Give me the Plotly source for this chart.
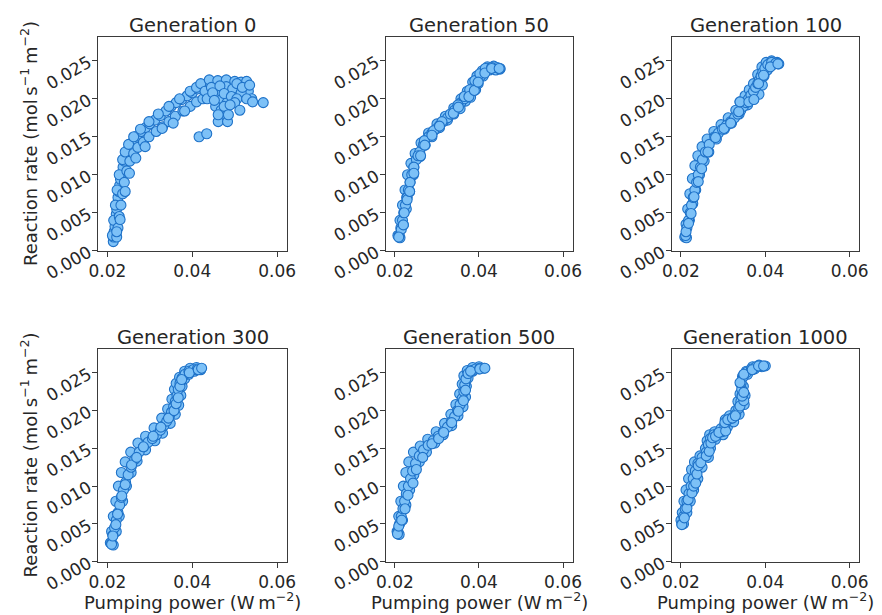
import plotly.graph_objects as go

# ---------------- data ----------------
titles = ["Generation 0", "Generation 50", "Generation 100",
          "Generation 300", "Generation 500", "Generation 1000"]

gen0_x = [0.0214, 0.0215, 0.0216, 0.0218, 0.0219, 0.0221, 0.0222, 0.0224, 0.0225, 0.0227,
          0.0229, 0.0231, 0.0234, 0.0237, 0.0240, 0.0244, 0.0249, 0.0255, 0.0262, 0.0270,
          0.0280, 0.0290, 0.0300, 0.0312, 0.0325, 0.0338, 0.0350, 0.0362, 0.0375, 0.0388,
          0.0400, 0.0412, 0.0425, 0.0438, 0.0450, 0.0462, 0.0475, 0.0488, 0.0500, 0.0512,
          0.0525,
          0.0212, 0.0215, 0.0219, 0.0223, 0.0228, 0.0236, 0.0242, 0.0250, 0.0262, 0.0278,
          0.0298, 0.0320, 0.0345, 0.0370, 0.0395, 0.0410, 0.0420, 0.0440, 0.0460, 0.0480,
          0.0500, 0.0515, 0.0528,
          0.0222, 0.0225, 0.0228, 0.0232, 0.0236, 0.0240, 0.0246, 0.0253, 0.0262, 0.0272,
          0.0285, 0.0298, 0.0315, 0.0330, 0.0345, 0.0360, 0.0378, 0.0395, 0.0410, 0.0425,
          0.0440, 0.0455, 0.0470, 0.0485, 0.0498, 0.0510, 0.0520, 0.0532, 0.0540,
          0.0430, 0.0445, 0.0460, 0.0470, 0.0480, 0.0495, 0.0505, 0.0515, 0.0455, 0.0468,
          0.0482, 0.0470, 0.0435, 0.0448, 0.0452, 0.0465, 0.0475, 0.0492, 0.0505, 0.0518,
          0.0528, 0.0535, 0.0500, 0.0475,
          0.0416, 0.0434, 0.0567, 0.0542, 0.0512, 0.0461, 0.0483, 0.0485, 0.0461, 0.0489,
          0.0355, 0.0382, 0.0329, 0.0289, 0.0267, 0.0252, 0.0242, 0.0230, 0.0222]
gen0_y = [0.0012, 0.0018, 0.0025, 0.0032, 0.0040, 0.0048, 0.0055, 0.0062, 0.0070, 0.0078,
          0.0086, 0.0094, 0.0102, 0.0110, 0.0118, 0.0126, 0.0133, 0.0139, 0.0145, 0.0151,
          0.0157, 0.0162, 0.0167, 0.0172, 0.0178, 0.0184, 0.0190, 0.0195, 0.0199, 0.0204,
          0.0208, 0.0213, 0.0218, 0.0222, 0.0221, 0.0223, 0.0222, 0.0221, 0.0219, 0.0216,
          0.0222,
          0.0020, 0.0040, 0.0060, 0.0080, 0.0100, 0.0120, 0.0130, 0.0140, 0.0150, 0.0160,
          0.0170, 0.0180, 0.0190, 0.0200, 0.0210, 0.0215, 0.0220, 0.0225, 0.0224, 0.0225,
          0.0223, 0.0222, 0.0223,
          0.0018, 0.0030, 0.0045, 0.0060, 0.0075, 0.0090, 0.0105, 0.0118, 0.0128, 0.0136,
          0.0143, 0.0150, 0.0157, 0.0163, 0.0170, 0.0177, 0.0184, 0.0190, 0.0196, 0.0200,
          0.0205, 0.0210, 0.0213, 0.0210, 0.0207, 0.0212, 0.0205, 0.0210, 0.0200,
          0.0210, 0.0215, 0.0205, 0.0200, 0.0216, 0.0213, 0.0220, 0.0208, 0.0190, 0.0185,
          0.0195, 0.0178, 0.0200, 0.0208, 0.0198, 0.0217, 0.0207, 0.0203, 0.0200, 0.0215,
          0.0200, 0.0218, 0.0195, 0.0190,
          0.0150, 0.0154, 0.0195, 0.0196, 0.0185, 0.0170, 0.0170, 0.0179, 0.0179, 0.0192,
          0.0168, 0.0184, 0.0161, 0.0137, 0.0122, 0.0102, 0.0078, 0.0041, 0.0025]

gen50_x = [0.0207, 0.0212, 0.0218, 0.0224, 0.0230, 0.0238, 0.0248, 0.0262, 0.0280, 0.0300,
           0.0320, 0.0340, 0.0357, 0.0372, 0.0385, 0.0395, 0.0408, 0.0420, 0.0435, 0.0445,
           0.0212, 0.0220, 0.0227, 0.0235, 0.0244, 0.0260, 0.0272, 0.0288, 0.0306, 0.0325,
           0.0340, 0.0355, 0.0368, 0.0380, 0.0392, 0.0398, 0.0410, 0.0425, 0.0440, 0.0450,
           0.0210, 0.0214, 0.0218, 0.0221, 0.0225, 0.0228, 0.0232, 0.0236, 0.0240, 0.0245,
           0.0251, 0.0259, 0.0268, 0.0280, 0.0288, 0.0297, 0.0306, 0.0315, 0.0325, 0.0334,
           0.0342, 0.0350, 0.0357, 0.0365, 0.0372, 0.0380, 0.0387, 0.0393, 0.0398, 0.0404,
           0.0412, 0.0422, 0.0432, 0.0442, 0.0450,
           0.0215, 0.0222, 0.0229, 0.0236, 0.0245, 0.0255, 0.0270, 0.0292, 0.0312, 0.0332,
           0.0350, 0.0365, 0.0378, 0.0390, 0.0402, 0.0415, 0.0430,
           0.0209, 0.0220, 0.0229, 0.0235, 0.0245, 0.0261, 0.0271, 0.0288, 0.0306, 0.0339,
           0.0351, 0.0376, 0.0389, 0.0398, 0.0414, 0.0430, 0.0448]
gen50_y = [0.0020, 0.0040, 0.0060, 0.0080, 0.0100, 0.0115, 0.0128, 0.0142, 0.0155, 0.0167,
           0.0177, 0.0188, 0.0200, 0.0210, 0.0222, 0.0230, 0.0237, 0.0242, 0.0243, 0.0241,
           0.0017, 0.0034, 0.0055, 0.0078, 0.0100, 0.0124, 0.0139, 0.0150, 0.0162, 0.0172,
           0.0180, 0.0187, 0.0197, 0.0202, 0.0212, 0.0220, 0.0230, 0.0238, 0.0238, 0.0239,
           0.0020, 0.0030, 0.0040, 0.0050, 0.0060, 0.0070, 0.0080, 0.0090, 0.0100, 0.0110,
           0.0120, 0.0130, 0.0140, 0.0150, 0.0155, 0.0160, 0.0165, 0.0170, 0.0175, 0.0180,
           0.0185, 0.0190, 0.0195, 0.0200, 0.0205, 0.0210, 0.0215, 0.0220, 0.0225, 0.0230,
           0.0235, 0.0240, 0.0241, 0.0241, 0.0240,
           0.0028, 0.0050, 0.0070, 0.0090, 0.0110, 0.0125, 0.0145, 0.0158, 0.0170, 0.0180,
           0.0192, 0.0203, 0.0212, 0.0224, 0.0233, 0.0240, 0.0241,
           0.0018, 0.0034, 0.0067, 0.0078, 0.0102, 0.0125, 0.0139, 0.0152, 0.0164, 0.0181,
           0.0189, 0.0203, 0.0211, 0.0222, 0.0234, 0.0240, 0.0240]

gen100_x = [0.0209, 0.0212, 0.0216, 0.0221, 0.0227, 0.0233, 0.0240, 0.0250, 0.0262, 0.0278,
            0.0295, 0.0312, 0.0330, 0.0340, 0.0352, 0.0362, 0.0372, 0.0382, 0.0392, 0.0402,
            0.0415, 0.0428,
            0.0213, 0.0220, 0.0228, 0.0235, 0.0244, 0.0255, 0.0266, 0.0284, 0.0303, 0.0320,
            0.0338, 0.0358, 0.0372, 0.0385, 0.0393, 0.0397, 0.0405, 0.0418, 0.0432,
            0.0211, 0.0214, 0.0218, 0.0222, 0.0225, 0.0229, 0.0233, 0.0237, 0.0241, 0.0246,
            0.0251, 0.0258, 0.0267, 0.0280, 0.0289, 0.0298, 0.0308, 0.0318, 0.0327, 0.0335,
            0.0342, 0.0348, 0.0354, 0.0360, 0.0366, 0.0372, 0.0377, 0.0382, 0.0386, 0.0390,
            0.0394, 0.0399, 0.0406, 0.0415, 0.0425,
            0.0212, 0.0218, 0.0224, 0.0231, 0.0241, 0.0249, 0.0264, 0.0282, 0.0302, 0.0318,
            0.0337, 0.0340, 0.0361, 0.0373, 0.0384, 0.0396, 0.0412, 0.0430]
gen100_y = [0.0018, 0.0035, 0.0055, 0.0075, 0.0095, 0.0112, 0.0125, 0.0137, 0.0147, 0.0157,
            0.0166, 0.0175, 0.0185, 0.0196, 0.0204, 0.0212, 0.0220, 0.0232, 0.0242, 0.0248,
            0.0250, 0.0248,
            0.0017, 0.0040, 0.0062, 0.0080, 0.0100, 0.0118, 0.0130, 0.0147, 0.0160, 0.0168,
            0.0180, 0.0192, 0.0200, 0.0206, 0.0218, 0.0230, 0.0238, 0.0245, 0.0246,
            0.0020, 0.0030, 0.0040, 0.0050, 0.0060, 0.0070, 0.0080, 0.0090, 0.0100, 0.0110,
            0.0120, 0.0130, 0.0140, 0.0150, 0.0155, 0.0160, 0.0165, 0.0170, 0.0175, 0.0180,
            0.0185, 0.0190, 0.0195, 0.0200, 0.0205, 0.0210, 0.0215, 0.0220, 0.0225, 0.0230,
            0.0235, 0.0240, 0.0245, 0.0248, 0.0247,
            0.0025, 0.0036, 0.0049, 0.0071, 0.0091, 0.0108, 0.0130, 0.0149, 0.0161, 0.0168,
            0.0183, 0.0196, 0.0196, 0.0199, 0.0220, 0.0231, 0.0242, 0.0246]

gen300_x = [0.0207, 0.0210, 0.0214, 0.0220, 0.0226, 0.0233, 0.0242, 0.0255, 0.0272, 0.0290,
            0.0310, 0.0328, 0.0342, 0.0352, 0.0358, 0.0362, 0.0370, 0.0382, 0.0395, 0.0410,
            0.0214, 0.0221, 0.0228, 0.0236, 0.0245, 0.0256, 0.0270, 0.0290, 0.0312, 0.0330,
            0.0348, 0.0360, 0.0368, 0.0373, 0.0376, 0.0382, 0.0392, 0.0405, 0.0420,
            0.0210, 0.0213, 0.0217, 0.0221, 0.0225, 0.0229, 0.0233, 0.0238, 0.0243, 0.0249,
            0.0256, 0.0264, 0.0275, 0.0285, 0.0296, 0.0306, 0.0316, 0.0325, 0.0333, 0.0340,
            0.0346, 0.0351, 0.0356, 0.0360, 0.0364, 0.0367, 0.0371, 0.0376, 0.0383, 0.0392,
            0.0402, 0.0412,
            0.0210, 0.0213, 0.0220, 0.0224, 0.0234, 0.0242, 0.0257, 0.0269, 0.0285, 0.0308,
            0.0326, 0.0344, 0.0357, 0.0362, 0.0367, 0.0371, 0.0375, 0.0393, 0.0414, 0.0422]
gen300_y = [0.0025, 0.0040, 0.0060, 0.0080, 0.0100, 0.0118, 0.0132, 0.0145, 0.0157, 0.0166,
            0.0177, 0.0190, 0.0202, 0.0215, 0.0228, 0.0236, 0.0244, 0.0252, 0.0256, 0.0257,
            0.0022, 0.0040, 0.0060, 0.0080, 0.0100, 0.0118, 0.0133, 0.0148, 0.0160, 0.0170,
            0.0183, 0.0195, 0.0207, 0.0220, 0.0232, 0.0242, 0.0248, 0.0252, 0.0254,
            0.0025, 0.0035, 0.0045, 0.0055, 0.0065, 0.0075, 0.0085, 0.0095, 0.0105, 0.0115,
            0.0125, 0.0135, 0.0145, 0.0152, 0.0158, 0.0163, 0.0168, 0.0174, 0.0180, 0.0186,
            0.0192, 0.0198, 0.0205, 0.0212, 0.0220, 0.0228, 0.0236, 0.0243, 0.0248, 0.0252,
            0.0254, 0.0255,
            0.0023, 0.0034, 0.0049, 0.0063, 0.0087, 0.0102, 0.0128, 0.0138, 0.0152, 0.0166,
            0.0178, 0.0190, 0.0200, 0.0209, 0.0217, 0.0232, 0.0241, 0.0250, 0.0254, 0.0256]

gen500_x = [0.0205, 0.0209, 0.0214, 0.0220, 0.0226, 0.0233, 0.0244, 0.0260, 0.0278, 0.0298,
            0.0318, 0.0333, 0.0345, 0.0354, 0.0360, 0.0364, 0.0372, 0.0385, 0.0400,
            0.0210, 0.0218, 0.0226, 0.0235, 0.0245, 0.0258, 0.0275, 0.0295, 0.0315, 0.0335,
            0.0350, 0.0362, 0.0368, 0.0370, 0.0374, 0.0385, 0.0400, 0.0412,
            0.0207, 0.0211, 0.0215, 0.0219, 0.0223, 0.0227, 0.0232, 0.0237, 0.0242, 0.0249,
            0.0258, 0.0268, 0.0279, 0.0291, 0.0303, 0.0315, 0.0325, 0.0334, 0.0342, 0.0349,
            0.0355, 0.0360, 0.0364, 0.0366, 0.0369, 0.0374, 0.0382, 0.0392, 0.0402,
            0.0206, 0.0209, 0.0216, 0.0224, 0.0231, 0.0243, 0.0251, 0.0266, 0.0288, 0.0304,
            0.0316, 0.0335, 0.0351, 0.0363, 0.0368, 0.0380, 0.0402, 0.0414]
gen500_y = [0.0040, 0.0060, 0.0080, 0.0100, 0.0118, 0.0132, 0.0145, 0.0153, 0.0162, 0.0172,
            0.0183, 0.0195, 0.0208, 0.0222, 0.0235, 0.0246, 0.0253, 0.0257, 0.0258,
            0.0036, 0.0055, 0.0075, 0.0095, 0.0115, 0.0132, 0.0145, 0.0157, 0.0168, 0.0180,
            0.0193, 0.0205, 0.0218, 0.0232, 0.0243, 0.0252, 0.0255, 0.0256,
            0.0040, 0.0050, 0.0060, 0.0070, 0.0080, 0.0090, 0.0100, 0.0110, 0.0120, 0.0130,
            0.0140, 0.0148, 0.0154, 0.0160, 0.0166, 0.0172, 0.0178, 0.0185, 0.0192, 0.0200,
            0.0208, 0.0216, 0.0225, 0.0234, 0.0242, 0.0249, 0.0253, 0.0255, 0.0256,
            0.0037, 0.0047, 0.0055, 0.0070, 0.0088, 0.0104, 0.0122, 0.0138, 0.0156, 0.0163,
            0.0171, 0.0184, 0.0199, 0.0213, 0.0227, 0.0252, 0.0255, 0.0256]

gen1000_x = [0.0200, 0.0203, 0.0207, 0.0212, 0.0218, 0.0225, 0.0232, 0.0245, 0.0258, 0.0262,
             0.0268, 0.0280, 0.0295, 0.0305, 0.0315, 0.0330, 0.0335, 0.0340, 0.0342, 0.0346,
             0.0355, 0.0370, 0.0385,
             0.0206, 0.0214, 0.0222, 0.0230, 0.0240, 0.0250, 0.0265, 0.0270, 0.0282, 0.0300,
             0.0310, 0.0325, 0.0338, 0.0350, 0.0352, 0.0348, 0.0358, 0.0375, 0.0392, 0.0400,
             0.0202, 0.0206, 0.0210, 0.0214, 0.0219, 0.0224, 0.0229, 0.0234, 0.0240, 0.0250,
             0.0260, 0.0265, 0.0270, 0.0278, 0.0288, 0.0298, 0.0304, 0.0310, 0.0320, 0.0330,
             0.0337, 0.0342, 0.0345, 0.0344, 0.0343, 0.0348, 0.0357, 0.0367, 0.0378, 0.0390,
             0.0202, 0.0208, 0.0214, 0.0217, 0.0226, 0.0230, 0.0235, 0.0238, 0.0241, 0.0247,
             0.0260, 0.0267, 0.0271, 0.0275, 0.0282, 0.0290, 0.0306, 0.0304, 0.0311, 0.0322,
             0.0329, 0.0340, 0.0349, 0.0345, 0.0349, 0.0340, 0.0349, 0.0369, 0.0384, 0.0396]
gen1000_y = [0.0055, 0.0065, 0.0080, 0.0095, 0.0110, 0.0122, 0.0132, 0.0140, 0.0150, 0.0160,
             0.0168, 0.0172, 0.0176, 0.0188, 0.0193, 0.0200, 0.0212, 0.0222, 0.0235, 0.0245,
             0.0252, 0.0258, 0.0260,
             0.0050, 0.0065, 0.0080, 0.0095, 0.0110, 0.0125, 0.0138, 0.0150, 0.0162, 0.0168,
             0.0178, 0.0185, 0.0195, 0.0208, 0.0220, 0.0232, 0.0248, 0.0255, 0.0258, 0.0259,
             0.0050, 0.0060, 0.0070, 0.0080, 0.0090, 0.0100, 0.0110, 0.0120, 0.0130, 0.0138,
             0.0145, 0.0155, 0.0163, 0.0168, 0.0170, 0.0172, 0.0180, 0.0187, 0.0190, 0.0195,
             0.0203, 0.0212, 0.0220, 0.0228, 0.0237, 0.0245, 0.0251, 0.0255, 0.0258, 0.0259,
             0.0049, 0.0058, 0.0071, 0.0082, 0.0091, 0.0100, 0.0104, 0.0116, 0.0127, 0.0131,
             0.0140, 0.0146, 0.0157, 0.0164, 0.0166, 0.0171, 0.0173, 0.0184, 0.0188, 0.0190,
             0.0193, 0.0206, 0.0213, 0.0219, 0.0224, 0.0237, 0.0248, 0.0254, 0.0259, 0.0259]

xs = [gen0_x, gen50_x, gen100_x, gen300_x, gen500_x, gen1000_x]
ys = [gen0_y, gen50_y, gen100_y, gen300_y, gen500_y, gen1000_y]

x_ticks = [0.02, 0.04, 0.06]
y_ticks = [0.000, 0.005, 0.010, 0.015, 0.020, 0.025]
x_label = "Pumping power (W\u2009m<sup>\u22122</sup>)"
y_label = "Reaction rate (mol\u2009s<sup>\u22121</sup>\u2009m<sup>\u22122</sup>)"

# ---------------- layout ----------------
# the page body adds an 8 px margin at the top-left, so the figure starts at
# (8, 8) in the window; it fills the rest of the window
OFF = 8
W, H = 882 - OFF, 615 - OFF
col_px = [(98, 287), (385.7, 572.7), (671.7, 859.3)]
row_px = [(37.3, 250.7), (349.3, 561.7)]
FONT = "DejaVu Sans"
TXT = "#262626"
FILL = "#7dc1f7"
EDGE = "#1f72c8"


def fx(px):
    return (px - OFF) / W


def fy(py):
    return 1 - (py - OFF) / H


fig = go.Figure()
annotations = []
for i in range(6):
    r, c = divmod(i, 3)
    n = i + 1
    xa = "x" if n == 1 else f"x{n}"
    ya = "y" if n == 1 else f"y{n}"
    fig.add_trace(go.Scatter(
        x=xs[i], y=ys[i], mode="markers", xaxis=xa, yaxis=ya,
        marker=dict(size=10, color=FILL, line=dict(color=EDGE, width=1.1)),
        showlegend=False, hoverinfo="x+y"))
    x0, x1 = col_px[c]
    y0, y1 = row_px[r]
    axis_common = dict(showline=True, linecolor="#3a3a3a", linewidth=1.1, mirror=True,
                       ticks="outside", ticklen=5, tickwidth=1.1, tickcolor="#3a3a3a",
                       showgrid=False, zeroline=False, automargin=False,
                       tickfont=dict(family=FONT, size=17, color=TXT))
    fig.update_layout({
        ("xaxis" if n == 1 else f"xaxis{n}"): dict(
            domain=[fx(x0), fx(x1)], anchor=ya, range=[0.0178, 0.0623], tickvals=x_ticks,
            ticktext=[f"{v:.2f}" for v in x_ticks], **axis_common),
        ("yaxis" if n == 1 else f"yaxis{n}"): dict(
            domain=[fy(y1), fy(y0)], anchor=xa, range=[0, 0.0281], tickvals=y_ticks,
            ticktext=[f"{v:.3f}" for v in y_ticks], tickangle=-30, **axis_common),
    })
    # subplot title
    annotations.append(dict(text=titles[i], x=fx((x0 + x1) / 2), y=fy(y0 - 12),
                            xref="paper", yref="paper", xanchor="center", yanchor="middle",
                            showarrow=False, font=dict(family=FONT, size=19.5, color=TXT)))
    if c == 0:
        annotations.append(dict(text=y_label, x=fx(29), y=fy((y0 + y1) / 2),
                                xref="paper", yref="paper", xanchor="center", yanchor="middle",
                                textangle=-90, showarrow=False,
                                font=dict(family=FONT, size=18, color=TXT)))
    if r == 1:
        annotations.append(dict(text=x_label, x=fx((x0 + x1) / 2), y=fy(601),
                                xref="paper", yref="paper", xanchor="center", yanchor="middle",
                                showarrow=False, font=dict(family=FONT, size=18, color=TXT)))

fig.update_layout(width=W, height=H, margin=dict(l=0, r=0, t=0, b=0),
                  paper_bgcolor="white", plot_bgcolor="white",
                  annotations=annotations)

fig.write_html("out.html")
